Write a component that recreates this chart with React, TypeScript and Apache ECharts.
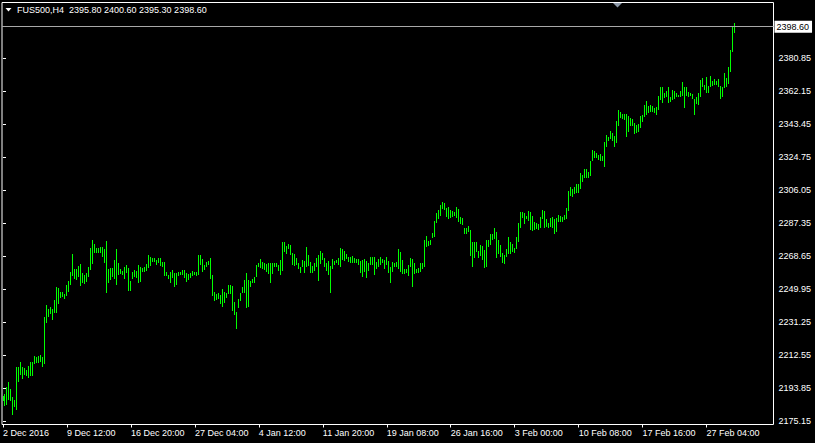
import React, { useEffect, useRef } from "react";
import * as echarts from "echarts";

const symbolName = "FUS500,H4";
const lastOpen = 2395.8;
const lastClose = 2398.6;

const highs: number[] = [
  2189.5, 2190.3, 2194.6, 2197.3, 2193.5, 2188.9, 2187.1, 2205.9, 2205.9, 2208.6,
  2205.9, 2205.0, 2204.1, 2206.5, 2208.6, 2208.6, 2212.0, 2211.6, 2212.0, 2212.6,
  2211.4, 2233.9, 2240.7, 2238.8, 2239.6, 2238.5, 2243.7, 2250.9, 2250.4, 2248.3,
  2248.3, 2247.0, 2252.1, 2254.7, 2259.4, 2269.8, 2261.5, 2261.1, 2263.0, 2264.1,
  2258.9, 2257.9, 2259.2, 2262.3, 2273.0, 2277.7, 2275.5, 2273.0, 2273.2, 2273.6,
  2273.8, 2272.5, 2277.0, 2261.5, 2261.9, 2261.9, 2266.4, 2272.6, 2264.7, 2261.3,
  2260.3, 2262.3, 2263.6, 2261.9,
  2254.7, 2259.6, 2260.7, 2260.3, 2263.6, 2262.6, 2262.0, 2262.3, 2264.1, 2269.2,
  2268.3, 2267.5, 2267.5, 2266.4, 2267.4, 2267.5, 2265.1, 2265.3, 2259.8, 2258.1,
  2259.8, 2260.7, 2258.9, 2258.9, 2259.6, 2259.8, 2260.7, 2260.7, 2258.9, 2258.5,
  2259.2, 2260.2, 2259.8, 2259.6, 2269.2, 2269.2, 2267.0, 2263.7, 2265.1, 2266.0,
  2267.5, 2257.9, 2248.1, 2247.1, 2247.5, 2246.6, 2249.8, 2248.4, 2247.9, 2252.2,
  2252.1, 2251.7, 2242.6, 2237.1,
  2244.3, 2247.9, 2250.9, 2255.1, 2259.0, 2255.1, 2254.7, 2255.8, 2256.9, 2263.6,
  2264.9, 2267.1, 2265.1, 2264.9, 2264.1, 2264.9, 2264.9, 2264.9, 2264.9, 2264.9,
  2263.6, 2266.4, 2276.6, 2276.4, 2274.5, 2275.3, 2274.9, 2270.5, 2269.8, 2267.7,
  2264.9, 2262.6, 2266.4, 2266.0, 2273.8, 2269.2, 2265.4, 2263.0, 2264.9, 2267.5,
  2269.2, 2271.3, 2270.4, 2267.4, 2264.9, 2265.8, 2263.0, 2267.1, 2265.8, 2266.4,
  2267.5, 2273.2, 2272.6, 2271.3, 2269.8, 2267.9, 2268.3, 2268.7, 2267.5, 2267.1,
  2267.0, 2265.7, 2266.4, 2266.8, 2265.7, 2264.9, 2267.9, 2267.9, 2268.3, 2265.1,
  2266.8, 2268.3, 2267.1, 2266.4, 2268.3, 2266.0, 2262.6, 2265.3, 2264.9, 2265.4,
  2272.6, 2270.9, 2266.4, 2261.1, 2261.5, 2263.7, 2267.5, 2267.1, 2264.5, 2261.1,
  2261.7, 2264.5, 2264.9, 2277.7, 2280.0, 2277.2, 2277.7, 2281.9,
  2288.5, 2292.9, 2294.7, 2297.6, 2299.4, 2298.7, 2296.0, 2296.4, 2294.6, 2294.2,
  2293.8, 2296.4, 2295.3, 2290.8, 2290.4, 2284.7, 2284.4, 2285.5, 2283.6, 2276.4,
  2276.8, 2276.4, 2271.5, 2274.9, 2274.5, 2272.1, 2277.7, 2277.7, 2281.0, 2281.0,
  2284.7, 2282.4, 2277.7, 2274.9, 2270.2, 2269.2, 2272.6, 2279.6, 2276.8, 2275.3,
  2273.4, 2279.6, 2287.4, 2293.8, 2293.4, 2292.9, 2291.2, 2294.2, 2293.8, 2291.5,
  2288.1, 2287.4, 2287.0, 2290.8, 2294.9,
  2294.2, 2289.6, 2287.5, 2290.0, 2290.8, 2289.6, 2290.4, 2291.9, 2291.2, 2290.8,
  2291.9, 2295.7, 2305.5, 2307.9, 2306.6, 2307.8, 2309.6, 2309.3, 2315.7, 2314.6,
  2318.0, 2318.0, 2316.1, 2322.5, 2328.7, 2328.2, 2327.2, 2325.9, 2326.6, 2325.5,
  2333.4, 2337.2, 2336.3, 2339.5, 2338.2, 2336.8, 2345.2, 2351.4, 2350.1, 2349.3,
  2349.3, 2349.1, 2348.0, 2346.7, 2346.3, 2343.9,
  2342.7, 2343.5, 2348.0, 2348.6, 2354.2, 2356.7, 2353.7, 2354.2, 2353.8, 2352.4,
  2353.3, 2359.3, 2364.6, 2364.3, 2360.9, 2362.3, 2364.3, 2358.9, 2362.7, 2362.3,
  2361.2, 2360.1, 2362.3, 2367.4, 2364.6, 2364.6, 2361.8, 2360.9, 2360.5, 2357.5,
  2358.6, 2360.9, 2368.4, 2369.4, 2365.6, 2369.9, 2365.0, 2370.7, 2368.0, 2368.8,
  2368.0, 2368.8, 2365.0, 2364.6, 2372.2, 2369.4, 2375.6,
  2385.4, 2398.3, 2400.6,
];

const lows: number[] = [
  2186.5, 2183.8, 2184.2, 2187.1, 2186.5, 2178.7, 2183.3, 2181.4, 2197.4, 2201.2,
  2199.1, 2201.2, 2200.7, 2199.7, 2200.7, 2200.8, 2207.5, 2207.9, 2208.2, 2208.8,
  2205.9, 2207.6, 2230.9, 2233.9, 2235.8, 2232.4, 2236.5, 2236.5, 2241.5, 2244.9,
  2245.6, 2244.1, 2246.0, 2248.4, 2252.2, 2257.3, 2255.5, 2255.1, 2256.9, 2251.8,
  2253.2, 2252.8, 2254.1, 2256.9, 2260.7, 2264.1, 2270.2, 2270.2, 2270.2, 2270.5,
  2267.9, 2264.7, 2247.9, 2253.5, 2255.1, 2256.9, 2255.5, 2252.1, 2257.7, 2258.5,
  2257.7, 2255.8, 2259.0, 2249.0,
  2248.8, 2255.8, 2256.9, 2256.4, 2253.5, 2254.1, 2259.4, 2259.8, 2260.3, 2262.0,
  2263.0, 2265.3, 2265.1, 2263.7, 2264.5, 2263.0, 2262.6, 2257.3, 2257.2, 2255.5,
  2253.5, 2256.0, 2251.3, 2252.2, 2257.2, 2257.7, 2257.9, 2256.0, 2254.1, 2255.1,
  2256.0, 2257.5, 2257.9, 2257.5, 2257.7, 2263.6, 2259.8, 2260.6, 2262.6, 2263.6,
  2255.5, 2246.2, 2243.3, 2243.7, 2244.1, 2241.5, 2239.6, 2242.2, 2244.7, 2247.1,
  2247.0, 2237.5, 2235.1, 2227.3,
  2239.4, 2243.3, 2247.5, 2247.9, 2239.0, 2239.9, 2250.9, 2253.2, 2253.5, 2256.9,
  2262.3, 2261.7, 2261.1, 2260.7, 2259.8, 2258.5, 2253.5, 2258.5, 2262.3, 2262.6,
  2260.3, 2257.9, 2260.2, 2271.1, 2269.8, 2272.5, 2269.2, 2263.4, 2263.0, 2263.4,
  2261.1, 2258.9, 2262.3, 2259.2, 2262.3, 2263.0, 2259.2, 2259.2, 2260.3, 2262.6,
  2254.7, 2264.0, 2266.4, 2262.6, 2260.3, 2257.7, 2247.9, 2261.1, 2263.7, 2264.9,
  2263.6, 2262.6, 2266.4, 2266.0, 2266.8, 2265.3, 2264.5, 2264.9, 2264.5, 2264.9,
  2263.7, 2259.2, 2256.9, 2259.6, 2256.0, 2260.3, 2263.7, 2263.7, 2257.9, 2261.1,
  2262.3, 2263.7, 2264.5, 2261.1, 2263.4, 2259.2, 2253.2, 2259.8, 2262.6, 2262.6,
  2261.1, 2259.6, 2258.5, 2258.5, 2258.9, 2257.3, 2262.3, 2251.3, 2258.3, 2259.2,
  2259.2, 2259.8, 2261.1, 2262.3, 2273.6, 2274.3, 2275.1, 2278.9,
  2279.6, 2287.2, 2289.6, 2291.5, 2295.3, 2294.9, 2290.9, 2289.5, 2290.0, 2290.8,
  2291.2, 2290.0, 2288.1, 2287.0, 2286.2, 2281.0, 2281.3, 2282.1, 2268.8, 2262.6,
  2267.4, 2271.1, 2267.4, 2268.8, 2266.4, 2262.0, 2262.6, 2273.9, 2274.9, 2277.6,
  2278.3, 2267.7, 2269.6, 2268.3, 2264.5, 2264.3, 2268.3, 2269.6, 2270.0, 2271.1,
  2270.2, 2272.6, 2276.8, 2284.7, 2290.0, 2286.6, 2289.6, 2288.5, 2283.4, 2282.8,
  2283.6, 2284.0, 2283.6, 2284.7, 2289.6,
  2284.7, 2285.3, 2284.4, 2285.3, 2284.7, 2281.0, 2282.4, 2287.8, 2287.8, 2288.1,
  2288.9, 2289.6, 2294.2, 2302.8, 2302.3, 2304.0, 2304.5, 2304.5, 2306.6, 2310.4,
  2312.7, 2313.0, 2313.0, 2313.8, 2322.5, 2324.0, 2324.4, 2322.9, 2322.5, 2322.5,
  2319.3, 2330.6, 2333.8, 2335.0, 2333.8, 2330.6, 2332.9, 2342.5, 2347.0, 2346.3,
  2345.7, 2336.3, 2338.8, 2342.5, 2342.5, 2337.6,
  2338.4, 2338.9, 2341.0, 2344.8, 2347.6, 2348.6, 2349.5, 2350.4, 2350.4, 2349.5,
  2348.6, 2351.4, 2357.1, 2355.2, 2358.0, 2358.9, 2355.2, 2356.1, 2357.1, 2357.5,
  2358.6, 2358.6, 2358.6, 2359.3, 2352.7, 2359.3, 2358.9, 2359.3, 2357.8, 2348.6,
  2354.8, 2354.2, 2358.9, 2364.6, 2362.7, 2360.9, 2361.2, 2364.6, 2365.0, 2365.6,
  2365.7, 2364.6, 2357.5, 2358.6, 2363.7, 2364.6, 2366.1,
  2373.1, 2384.4, 2395.3,
];

const xTickIndex: number[] = [0, 32, 64, 96, 128, 160, 192, 224, 256, 288, 320, 352];
const xTickLabels: string[] = [
  "2 Dec 2016", "9 Dec 12:00", "16 Dec 20:00", "27 Dec 04:00", "4 Jan 12:00", "11 Jan 20:00",
  "19 Jan 08:00", "26 Jan 16:00", "3 Feb 00:00", "10 Feb 08:00", "17 Feb 16:00", "27 Feb 04:00",
];
const yTickValues: number[] = [
  2175.15, 2193.85, 2212.55, 2231.25, 2249.95, 2268.65, 2287.35, 2306.05, 2324.75, 2343.45, 2362.15, 2380.85,
];

const FONT = "Liberation Sans, Arial, sans-serif";

export default function App() {
  const ref = useRef<HTMLDivElement>(null);
  useEffect(() => {
    if (!ref.current) return;
    const chart = echarts.init(ref.current, undefined, { renderer: "svg" });
    const data = highs.map((h, i) => [i, h, lows[i]]);
    const last = highs.length - 1;
    const header =
      symbolName + "\u00a0\u00a0" +
      [lastOpen, highs[last], lows[last], lastClose].map((v) => v.toFixed(2)).join(" ");
    chart.setOption({
      animation: false,
      backgroundColor: "#000000",
      title: {
        text: header,
        left: 17,
        top: 5,
        padding: 0,
        textStyle: { color: "#ffffff", fontSize: 9, fontWeight: "normal", fontFamily: FONT },
      },
      grid: {
        left: 1.5,
        top: 2.5,
        right: 41.5,
        bottom: 18.5,
        show: true,
        borderColor: "#ffffff",
        borderWidth: 1,
        backgroundColor: "#000000",
      },
      xAxis: {
        type: "value",
        min: -0.5,
        max: 385.5,
        axisLine: { show: false },
        splitLine: { show: false },
        axisTick: { show: true, customValues: xTickIndex, length: 3, lineStyle: { color: "#ffffff" } },
        axisLabel: {
          show: true,
          customValues: xTickIndex,
          formatter: (v: number) => {
            const k = xTickIndex.indexOf(Math.round(v));
            return k >= 0 ? xTickLabels[k] : "";
          },
          align: "left",
          color: "#ffffff",
          fontSize: 9,
          fontFamily: FONT,
          margin: 4,
        },
      },
      yAxis: {
        type: "value",
        position: "right",
        min: 2173.17,
        max: 2412.3,
        axisLine: { show: false },
        splitLine: { show: false },
        axisTick: { show: true, customValues: yTickValues, length: 3, lineStyle: { color: "#ffffff" } },
        axisLabel: {
          show: true,
          customValues: yTickValues,
          formatter: (v: number) => v.toFixed(2),
          color: "#ffffff",
          fontSize: 9,
          fontFamily: FONT,
          margin: 5,
        },
      },
      graphic: [
        {
          type: "polygon",
          shape: { points: [[5.5, 8], [11.5, 8], [8.5, 11.5]] },
          style: { fill: "#ffffff" },
        },
        {
          type: "polygon",
          shape: { points: [[613, 3], [622, 3], [617.5, 7.5]] },
          style: { fill: "#8c98a8" },
        },
      ],
      series: [
        {
          type: "custom",
          data,
          encode: { x: 0, y: [1, 2] },
          renderItem: (params: any, api: any) => {
            const i = api.value(0);
            const p1 = api.coord([i, api.value(1)]);
            const p2 = api.coord([i, api.value(2)]);
            const x = Math.floor(p1[0]) + 0.5;
            const y1 = Math.round(p1[1]);
            let y2 = Math.round(p2[1]);
            if (y2 <= y1) y2 = y1 + 1;
            return {
              type: "line",
              shape: { x1: x, y1, x2: x, y2 },
              style: { stroke: "#00ff00", lineWidth: 1, lineCap: "butt" },
            };
          },
          markLine: {
            silent: true,
            symbol: ["none", "none"],
            lineStyle: { color: "#a8a8a8", width: 1, type: "solid" },
            label: {
              show: true,
              position: "end",
              formatter: () => lastClose.toFixed(2),
              color: "#000000",
              backgroundColor: "#ffffff",
              padding: [2, 3, 1, 2],
              fontSize: 9,
              fontFamily: FONT,
              distance: 1,
            },
            data: [{ yAxis: lastClose }],
          },
        },
      ],
    });
    return () => chart.dispose();
  }, []);
  return (
    <div
      ref={ref}
      style={{ position: "fixed", left: 0, top: 0, width: 815, height: 443, background: "#000" }}
    />
  );
}
